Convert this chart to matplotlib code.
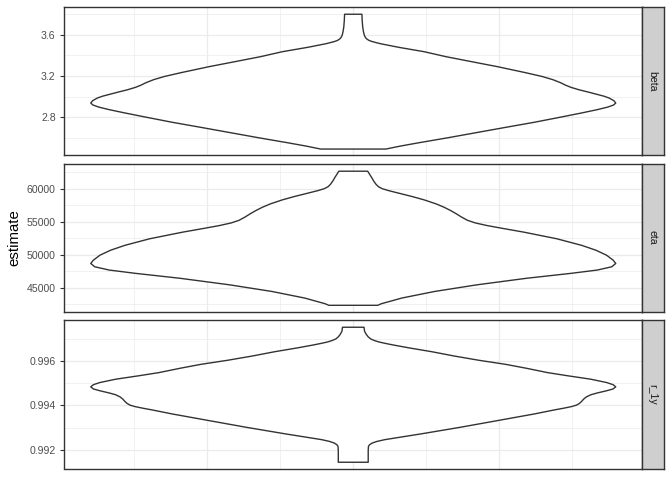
import matplotlib
matplotlib.use("Agg")
import matplotlib.pyplot as plt
import numpy as np

# facet labels
facets = ["beta", "eta", "r_1y"]

# violin outlines: estimate value and relative density width (max = 1)
beta_y = [3.802, 3.744, 3.680, 3.632, 3.600, 3.575, 3.560, 3.548, 3.538, 3.528,
          3.516, 3.504, 3.482, 3.440, 3.392, 3.344, 3.296, 3.238, 3.200, 3.170,
          3.140, 3.115, 3.095, 3.072, 3.050, 3.030, 3.010, 2.992, 2.966, 2.944,
          2.925, 2.905, 2.880, 2.848, 2.810, 2.758, 2.704, 2.656, 2.608, 2.560,
          2.528, 2.499]
beta_dens = [0.033, 0.034, 0.036, 0.039, 0.042, 0.047, 0.053, 0.061, 0.072, 0.087,
             0.106, 0.130, 0.174, 0.270, 0.353, 0.450, 0.548, 0.655, 0.720, 0.760,
             0.790, 0.810, 0.830, 0.860, 0.895, 0.925, 0.955, 0.975, 0.993, 1.000,
             0.992, 0.970, 0.930, 0.870, 0.795, 0.690, 0.570, 0.465, 0.360, 0.250,
             0.180, 0.124]

eta_y = [62750, 62300, 61800, 61250, 60750, 60400, 60100, 59800, 59400, 58900,
         58400, 57800, 57300, 56800, 56300, 55800, 55300, 54900, 54500, 54100,
         53500, 52500, 51500, 50750, 50000, 49250, 48750, 48250, 47750, 47250,
         46500, 45500, 44500, 43500, 43000, 42650, 42400]
eta_dens = [0.055, 0.062, 0.070, 0.078, 0.087, 0.096, 0.110, 0.135, 0.175, 0.225,
            0.270, 0.315, 0.345, 0.370, 0.392, 0.412, 0.435, 0.465, 0.510, 0.565,
            0.650, 0.775, 0.870, 0.925, 0.965, 0.990, 1.000, 0.985, 0.930, 0.830,
            0.660, 0.470, 0.310, 0.185, 0.140, 0.108, 0.093]

r1y_y = [0.997532, 0.997353, 0.997204, 0.997100, 0.997010, 0.996937, 0.996870,
         0.996800, 0.996729, 0.996610, 0.996431, 0.996238, 0.996045, 0.995866,
         0.995688, 0.995494, 0.995346, 0.995197, 0.995048, 0.994950, 0.994855,
         0.994760, 0.994677, 0.994580, 0.994498, 0.994400, 0.994305, 0.994200,
         0.994112, 0.994030, 0.993963, 0.993890, 0.993814, 0.993636, 0.993338,
         0.993041, 0.992743, 0.992565, 0.992480, 0.992400, 0.992327, 0.992250,
         0.992178, 0.992000, 0.991465]
r1y_dens = [0.041, 0.043, 0.050, 0.057, 0.066, 0.080, 0.098, 0.125, 0.155, 0.210,
            0.300, 0.385, 0.480, 0.580, 0.660, 0.740, 0.820, 0.905, 0.965, 0.990,
            1.000, 0.990, 0.965, 0.930, 0.905, 0.888, 0.878, 0.870, 0.862, 0.850,
            0.830, 0.800, 0.765, 0.690, 0.550, 0.410, 0.260, 0.165, 0.120, 0.090,
            0.072, 0.062, 0.058, 0.057, 0.057]

# axis breaks and labels
beta_ticks = [2.8, 3.2, 3.6]
beta_labels = ["2.8", "3.2", "3.6"]
beta_minor = [2.6, 3.0, 3.4, 3.8]
eta_ticks = [45000, 50000, 55000, 60000]
eta_labels = ["45000", "50000", "55000", "60000"]
eta_minor = [42500, 47500, 52500, 57500, 62500]
r1y_ticks = [0.992, 0.994, 0.996]
r1y_labels = ["0.992", "0.994", "0.996"]
r1y_minor = [0.993, 0.995, 0.997]
x_major = [-0.25, 0, 0.25]
x_minor = [-0.375, -0.125, 0.125, 0.375]

panels = [
    (beta_y, beta_dens, beta_ticks, beta_labels, beta_minor),
    (eta_y, eta_dens, eta_ticks, eta_labels, eta_minor),
    (r1y_y, r1y_dens, r1y_ticks, r1y_labels, r1y_minor),
]

plt.rcParams["font.family"] = ["Liberation Sans", "DejaVu Sans"]

fig = plt.figure(figsize=(6.72, 4.8), dpi=100)
dark = "#333333"
grid_col = "#EBEBEB"

# panel rectangles in figure fractions: left, width, (top, bottom) pixel rows per facet
left, width = 64 / 672, 577.5 / 672
rows = [(7, 155.3), (164, 311.5), (320, 468.5)]
strip_w = 22.5 / 672

for (top, bot), name, (vy, dens, ticks, labels, minor) in zip(rows, facets, panels):
    b = (480 - bot) / 480
    h = (bot - top) / 480
    ax = fig.add_axes([left, b, width, h])
    vy = np.array(vy)
    hw = 0.45 * np.array(dens)
    ax.fill_betweenx(vy, -hw, hw, facecolor="white", edgecolor=dark,
                     linewidth=1.0, joinstyle="round", zorder=3)

    lo, hi = vy.min(), vy.max()
    pad = (hi - lo) * 0.05
    ax.set_ylim(lo - pad, hi + pad)
    ax.set_xlim(-0.495, 0.495)

    ax.set_yticks(ticks)
    ax.set_yticklabels(labels)
    ax.set_yticks(minor, minor=True)
    ax.set_xticks(x_major)
    ax.set_xticks(x_minor, minor=True)
    ax.tick_params(axis="x", which="both", length=0, labelbottom=False)
    ax.tick_params(axis="y", which="major", length=3, width=0.8, color=dark,
                   labelsize=7.6, labelcolor="#4D4D4D", pad=3)
    ax.tick_params(axis="y", which="minor", length=0)
    ax.grid(which="major", color=grid_col, linewidth=0.9, zorder=0)
    ax.grid(which="minor", color=grid_col, linewidth=0.5, zorder=0)
    ax.set_axisbelow(True)
    for sp in ax.spines.values():
        sp.set_color(dark)
        sp.set_linewidth(1.0)

    # facet strip on the right
    sax = fig.add_axes([left + width, b, strip_w, h])
    sax.set_facecolor("#CFCFCF")
    sax.set_xticks([])
    sax.set_yticks([])
    for sp in sax.spines.values():
        sp.set_color(dark)
        sp.set_linewidth(1.0)
    sax.text(0.5, 0.5, name, rotation=-90, ha="center", va="center",
             fontsize=7.6, color="#1A1A1A", transform=sax.transAxes)

fig.text(14 / 672, (480 - 237.75) / 480, "estimate", rotation=90,
         ha="center", va="center", fontsize=10.8, color="black")

fig.savefig("out.png", dpi=100)
